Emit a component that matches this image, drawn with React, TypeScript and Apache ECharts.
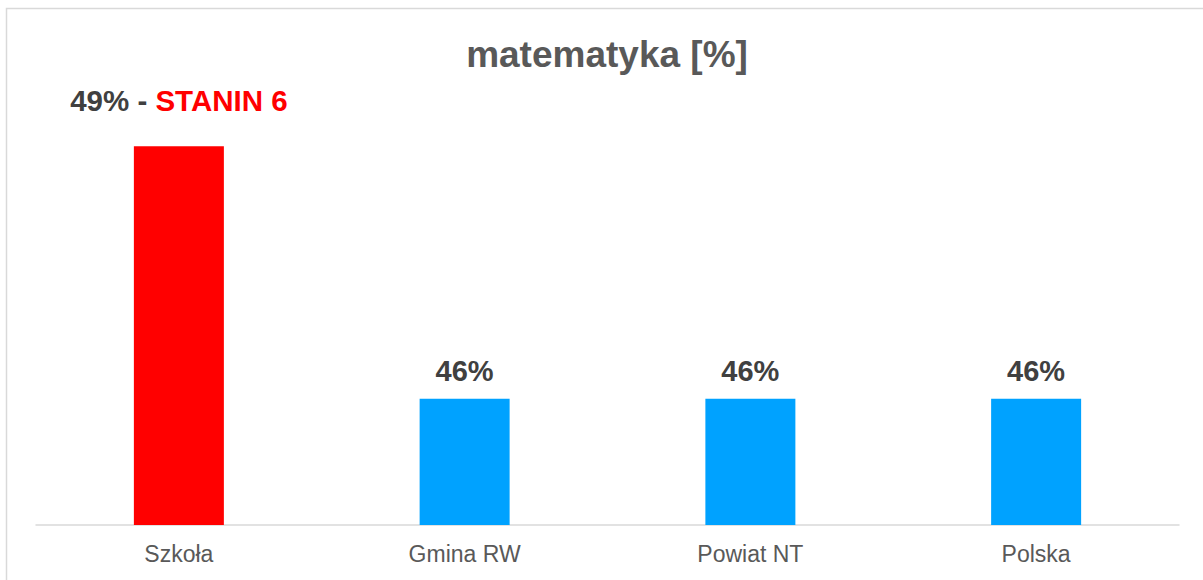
import React, { useEffect, useRef } from "react";
import * as echarts from "echarts";

const titleText = "matematyka [%]";
const categories = ["Szkoła", "Gmina RW", "Powiat NT", "Polska"];
const values = [49, 46, 46, 46];
const staninLabel = "STANIN 6";
const highlightCategory = "Szkoła";

const FONT = "'Liberation Sans', Arial, sans-serif";

export default function App() {
  const ref = useRef<HTMLDivElement>(null);
  useEffect(() => {
    if (!ref.current) return;
    const chart = echarts.init(ref.current, undefined, { renderer: "svg" });
    const data = values.map((v, i) => {
      const isHi = categories[i] === highlightCategory;
      return {
        value: v,
        itemStyle: { color: isHi ? "#FF0000" : "#00A2FF" },
        label: isHi
          ? {
              show: true,
              position: "top",
              distance: 31,
              formatter: `{a|${v}% - }{b|${staninLabel}}`,
              rich: {
                a: { fontSize: 29.5, fontWeight: "bold", color: "#404040", fontFamily: FONT, lineHeight: 30 },
                b: { fontSize: 29.5, fontWeight: "bold", color: "#FF0000", fontFamily: FONT, lineHeight: 30 },
              },
            }
          : undefined,
      };
    });
    chart.setOption({
      animation: false,
      backgroundColor: "#ffffff",
      title: {
        text: titleText,
        left: 602,
        top: 31,
        textAlign: "center",
        textStyle: {
          fontFamily: FONT,
          fontSize: 37,
          fontWeight: "bold",
          color: "#595959",
          lineHeight: 37,
        },
      },
      graphic: [
        {
          type: "rect",
          shape: { x: 6.5, y: 8.5, width: 1400, height: 800 },
          style: { fill: "none", stroke: "#d9d9d9", lineWidth: 1.5 },
          silent: true,
          z: -1,
        },
      ],
      grid: { left: 36, right: 24, top: 100, bottom: 55 },
      xAxis: {
        type: "category",
        data: categories,
        axisTick: { show: false },
        axisLine: { lineStyle: { color: "#d9d9d9", width: 1.5 } },
        axisLabel: {
          color: "#595959",
          fontFamily: FONT,
          fontSize: 23,
          lineHeight: 23,
          margin: 17,
        },
      },
      yAxis: {
        type: "value",
        min: 44.5,
        max: 49.55,
        show: false,
        splitLine: { show: false },
      },
      series: [
        {
          type: "bar",
          data,
          barWidth: 90,
          label: {
            show: true,
            position: "top",
            distance: 13,
            formatter: (p: any) => `${p.value}%`,
            fontFamily: FONT,
            fontSize: 29,
            fontWeight: "bold",
            color: "#404040",
            lineHeight: 29,
          },
        },
      ],
    });
    return () => chart.dispose();
  }, []);
  return (
    <div
      ref={ref}
      style={{ position: "fixed", left: 0, top: 0, width: 1203, height: 580 }}
    />
  );
}
